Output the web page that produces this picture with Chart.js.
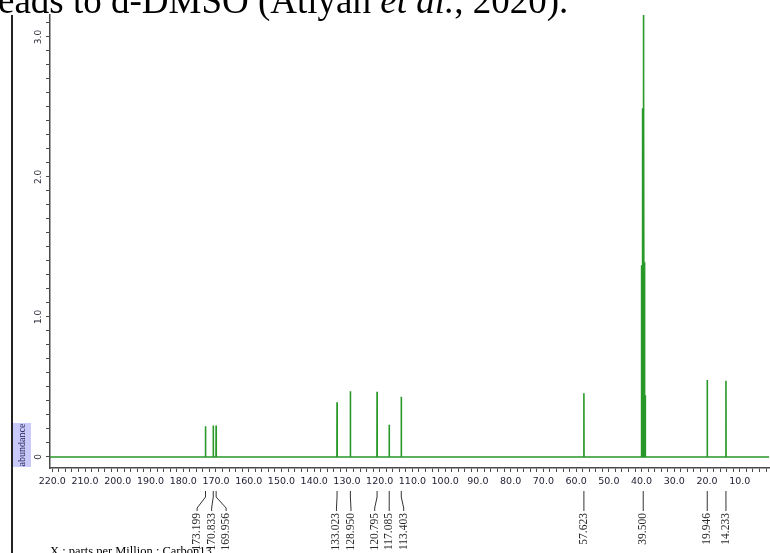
<!DOCTYPE html>
<html>
<head>
<meta charset="utf-8">
<script src="https://cdn.jsdelivr.net/npm/chart.js@4.4.0/dist/chart.umd.min.js"></script>
<style>
  html, body { margin: 0; padding: 0; background: #fff; }
  #wrap { position: relative; width: 770px; height: 553px; overflow: hidden; background: #fff; }
  #spectrum { position: absolute; left: 0; top: 0; }
  .caption { position: absolute; font-family: "Liberation Serif", "Times New Roman", serif; color: #000; white-space: nowrap; }
  #top-text { left: -2px; top: -18px; font-size: 37px; line-height: 37px; }
  #x-title { left: 50px; top: 545px; font-size: 12.5px; line-height: 12.5px; }
</style>
</head>
<body>
<div id="wrap">
  <canvas id="spectrum" width="770" height="553"></canvas>
  <div class="caption" id="top-text">eads to d-DMSO (Atiyah <i>et al.</i>, 2020).</div>
  <div class="caption" id="x-title">X : parts per Million : Carbon13</div>
</div>
<script>
// labelled carbon peaks (ppm) and their heights (abundance)
const peakShifts = [173.199, 170.833, 169.956, 133.023, 128.950, 120.795, 117.085, 113.403, 57.623, 39.500, 19.946, 14.233];
const peakHeights = [0.22, 0.225, 0.225, 0.39, 0.47, 0.465, 0.23, 0.43, 0.455, 3.30, 0.55, 0.545];

// other lines of the DMSO-d6 septet around 39.5
const dmsoShifts = [40.13, 39.92, 39.71, 39.29, 39.08, 38.87];
const dmsoHeights = [0.44, 1.37, 2.49, 2.72, 1.39, 0.44];

// axis ranges and labelled ticks
const xMin = 1.0, xMax = 220.7;
const yMin = -0.079, yMax = 3.157;
const yLabelValues = [0, 1, 2, 3];

const lines = peakShifts.map((s, i) => ({ s: s, h: peakHeights[i] }))
    .concat(dmsoShifts.map((s, i) => ({ s: s, h: dmsoHeights[i] })))
    .sort((a, b) => b.s - a.s);

let spectrum = [{ x: xMax, y: 0 }];
lines.forEach(l => {
    spectrum.push({ x: l.s + 0.04, y: 0 }, { x: l.s, y: l.h }, { x: l.s - 0.04, y: 0 });
});
spectrum.push({ x: xMin, y: 0 });

// push label positions apart so the rotated numbers don't collide
function spreadLabels(xs, gap) {
    let groups = xs.map(x => ({ n: 1, sum: x, start: x }));
    let merged = true;
    while (merged) {
        merged = false;
        for (let i = 0; i < groups.length - 1; i++) {
            let a = groups[i], b = groups[i + 1];
            if (a.start + a.n * gap > b.start) {
                let n = a.n + b.n, sum = a.sum + b.sum;
                groups.splice(i, 2, { n: n, sum: sum, start: sum / n - (n - 1) * gap / 2 });
                merged = true;
                break;
            }
        }
    }
    let out = [];
    groups.forEach(g => { for (let k = 0; k < g.n; k++) out.push(g.start + k * gap); });
    return out;
}

const decorations = {
    id: "decorations",
    afterDraw(chart) {
        const ctx = chart.ctx;
        const xs = chart.scales.x;
        ctx.save();

        // page border line at left
        ctx.strokeStyle = "#222";
        ctx.lineWidth = 2;
        ctx.beginPath();
        ctx.moveTo(12, 15);
        ctx.lineTo(12, 553);
        ctx.stroke();

        // "abundance" highlighted label
        ctx.fillStyle = "#c9c9fa";
        ctx.fillRect(13, 423, 18, 44);
        ctx.save();
        ctx.translate(22.5, 445);
        ctx.rotate(-Math.PI / 2);
        ctx.fillStyle = "#1e1e50";
        ctx.font = "10px 'Liberation Serif', serif";
        ctx.textAlign = "center";
        ctx.textBaseline = "middle";
        ctx.fillText("abundance", 0, 0);
        ctx.restore();

        // peak labels with leader lines
        const px = peakShifts.map(s => xs.getPixelForValue(s));
        const lx = spreadLabels(px, 14.5);
        ctx.strokeStyle = "#333";
        ctx.lineWidth = 1;
        ctx.fillStyle = "#2a2a2a";
        ctx.font = "11.5px 'Liberation Serif', serif";
        px.forEach((p, i) => {
            ctx.beginPath();
            ctx.moveTo(p, 491);
            ctx.lineTo(p, 497);
            ctx.lineTo(lx[i], 508);
            ctx.lineTo(lx[i], 511);
            ctx.stroke();
            ctx.save();
            ctx.translate(lx[i], 513);
            ctx.rotate(-Math.PI / 2);
            ctx.textAlign = "right";
            ctx.textBaseline = "middle";
            ctx.fillText(peakShifts[i].toFixed(3), 0, 0);
            ctx.restore();
        });
        ctx.restore();
    }
};

let ctx = document.getElementById("spectrum").getContext("2d");
new Chart(ctx, {
    type: "line",
    data: {
        datasets: [{
            data: spectrum,
            borderColor: "rgb(40,152,40)",
            borderWidth: 1.6,
            pointRadius: 0,
            fill: false,
            tension: 0
        }]
    },
    options: {
        responsive: false,
        animation: false,
        layout: { padding: { top: 15, left: 0, right: 0, bottom: 0 } },
        plugins: {
            legend: { display: false },
            tooltip: { enabled: false }
        },
        scales: {
            x: {
                type: "linear",
                reverse: true,
                min: xMin,
                max: xMax,
                afterFit: s => { s.height = 85; },
                border: { color: "#4a4a4a", width: 1.5 },
                grid: { drawOnChartArea: false, tickLength: 4, color: "#4a4a4a" },
                ticks: {
                    stepSize: 2,
                    autoSkip: false,
                    includeBounds: false,
                    maxRotation: 0,
                    minRotation: 0,
                    padding: 4,
                    color: "#1c1c30",
                    font: { family: "DejaVu Sans", size: 9.5 },
                    callback: v => (v > 0 && v % 10 === 0) ? v.toFixed(1) : ""
                }
            },
            y: {
                type: "linear",
                min: yMin,
                max: yMax,
                afterFit: s => { s.width = 50; },
                border: { color: "#4a4a4a", width: 1.5 },
                grid: { drawOnChartArea: false, tickLength: 4, color: "#4a4a4a" },
                ticks: {
                    stepSize: 0.1,
                    includeBounds: false,
                    autoSkip: false,
                    minRotation: 90,
                    maxRotation: 90,
                    crossAlign: "center",
                    padding: 0,
                    color: "#2a2a3a",
                    font: { family: "DejaVu Sans", size: 9 },
                    callback: v => {
                        let r = Math.round(v);
                        if (Math.abs(v - r) > 1e-6 || !yLabelValues.includes(r)) return "";
                        return r === 0 ? "0" : r.toFixed(1);
                    }
                }
            }
        }
    },
    plugins: [decorations]
});
</script>
</body>
</html>
